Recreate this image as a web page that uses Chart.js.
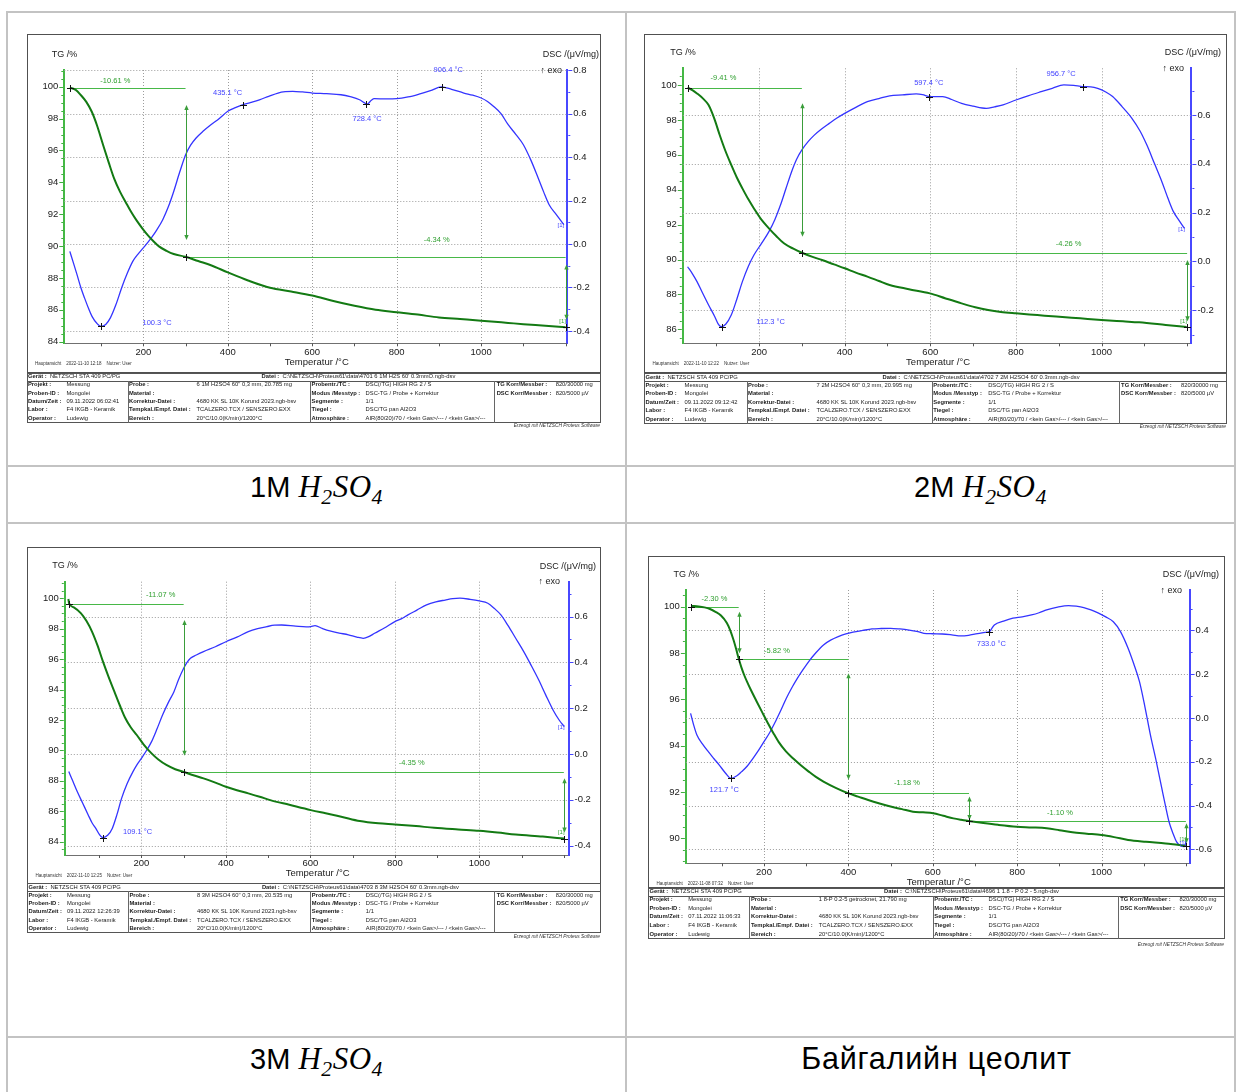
<!DOCTYPE html>
<html><head><meta charset="utf-8">
<script src="https://cdn.jsdelivr.net/npm/chart.js@4.4.0/dist/chart.umd.min.js"></script>
<style>
body{margin:0;background:#fff;font-family:"Liberation Sans",Arial,sans-serif;}
#page{position:relative;width:1237px;height:1092px;overflow:hidden;background:#fff}
canvas{position:absolute}
.cap{position:absolute;font-size:29px;line-height:29px;white-space:nowrap;color:#000;font-family:"Liberation Sans",Arial,sans-serif}
.m{font-family:"Liberation Serif","Times New Roman",serif;font-style:italic;font-size:1.07em;letter-spacing:0.5px}
.m sub{font-size:0.7em;vertical-align:-0.3em;line-height:0}
.cyr{font-size:30.5px;letter-spacing:0.8px}
</style></head><body><div id="page"></div>
<script>
// ---------- shared ticks ----------
const tempTicks = [200, 400, 600, 800, 1000];

// ---------- chart 1 : 1M H2SO4 ----------
const c1TgTemp = [26,40,52,65,78,90,105,118,131,145,158,171,184,198,211,224,237,255,272,300,330,360,400,448,500,550,600,650,700,750,800,850,900,950,1000,1064,1100,1152,1200];
const c1TgMass = [99.94,99.8,99.48,99.05,98.43,97.6,96.33,95.25,94.23,93.4,92.77,92.15,91.61,91.1,90.67,90.3,89.98,89.7,89.5,89.33,89.06,88.8,88.35,87.84,87.38,87.15,86.9,86.55,86.25,86.0,85.85,85.7,85.52,85.42,85.32,85.18,85.1,85.0,84.9];
const c1DscTemp = [26,35,43,52,61,70,78.5,90,100,111,122,135,149,162,175,188,200,219,232,246,259,272,286,300,312,325,342,360,380,400,418,435,455,475,497,519,536,554,577,600,634,668,690,712,722,730,740,747,775,800,827,853,880,906,930,959,980,1000,1015,1029,1047,1064,1082,1100,1118,1135,1148,1161,1178,1196];
const c1DscVal = [-0.034,-0.09,-0.141,-0.2,-0.249,-0.295,-0.333,-0.365,-0.379,-0.37,-0.34,-0.28,-0.2,-0.135,-0.08,-0.045,-0.018,0.028,0.065,0.112,0.17,0.242,0.33,0.41,0.455,0.488,0.52,0.549,0.578,0.611,0.628,0.641,0.652,0.664,0.68,0.695,0.701,0.703,0.7,0.695,0.692,0.687,0.678,0.664,0.652,0.644,0.662,0.669,0.668,0.669,0.677,0.69,0.706,0.723,0.712,0.695,0.685,0.672,0.656,0.634,0.6,0.549,0.505,0.457,0.385,0.304,0.24,0.181,0.135,0.089];
const c1TgTicks = [84,86,88,90,92,94,96,98,100];
const c1DscTicks = [-0.4,-0.2,0,0.2,0.4,0.6,0.8];
const c1StepFrom = [26,300], c1StepTo = [300,1200], c1StepLevel = [99.94,89.33];
const c1StepText = ['-10.61 %','-4.34 %'], c1StepLabelT = [133.7,894.6], c1StepLabelV = [100.36,90.38];
const c1ArrowT = [300,1200], c1ArrowTop = [98.85,88.84], c1ArrowBottom = [90.38,85.38];
const c1TgMarkT = [26,300,1200], c1TgMarkV = [99.94,89.33,84.9];
const c1PeakT = [100.3,435.1,728.4,906.4], c1PeakV = [-0.379,0.641,0.644,0.723];
const c1PeakText = ['100.3 °C','435.1 °C','728.4 °C','906.4 °C'], c1PeakLabelT = [232.7,399.6,730,922], c1PeakLabelV = [-0.362,0.697,0.576,0.80];

// ---------- chart 2 : 2M H2SO4 ----------
const c2TgTemp = [33,45,55,68,82,95,108,121,135,148,161,175,188,205,223,240,258,280,300,325,347,375,400,426,453,480,505,550,599,636,673,705,735,765,800,850,894,950,1000,1050,1088,1150,1199];
const c2TgMass = [99.85,99.7,99.52,99.25,98.85,98.1,97.14,96.25,95.42,94.7,94.08,93.45,92.93,92.3,91.79,91.35,90.93,90.62,90.39,90.15,89.97,89.72,89.5,89.25,89.02,88.77,88.54,88.3,88.06,87.77,87.49,87.27,87.11,87.0,86.92,86.82,86.73,86.63,86.54,86.46,86.4,86.25,86.13];
const c2DscTemp = [33,44,55,68,82,96,104,111,122,135,148,161,175,188,205,223,237,250,263,276,288,300,315,329,346,364,382,400,426,453,480,505,535,567,582,599,629,650,673,700,731,750,770,800,830,859,885,912,935,956,975,991,1010,1026,1048,1071,1090,1106,1124,1141,1155,1168,1181,1194];
const c2DscVal = [-0.022,-0.05,-0.083,-0.13,-0.179,-0.225,-0.255,-0.268,-0.258,-0.22,-0.155,-0.083,-0.02,0.026,0.072,0.122,0.172,0.231,0.3,0.368,0.42,0.457,0.492,0.518,0.543,0.566,0.588,0.607,0.632,0.655,0.668,0.679,0.683,0.687,0.684,0.676,0.676,0.664,0.648,0.637,0.628,0.634,0.642,0.662,0.68,0.696,0.71,0.724,0.722,0.717,0.716,0.71,0.695,0.676,0.635,0.587,0.535,0.477,0.4,0.327,0.26,0.204,0.168,0.135];
const c2TgTicks = [86,88,90,92,94,96,98,100];
const c2DscTicks = [-0.2,0,0.2,0.4,0.6];
const c2StepFrom = [33,300], c2StepTo = [300,1200], c2StepLevel = [99.85,90.39];
const c2StepText = ['-9.41 %','-4.26 %'], c2StepLabelT = [116.9,923], c2StepLabelV = [100.42,90.89];
const c2ArrowT = [300,1200], c2ArrowTop = [98.95,89.97], c2ArrowBottom = [91.31,86.47];
const c2TgMarkT = [33,300,1199], c2TgMarkV = [99.85,90.39,86.13];
const c2PeakT = [112.3,597.4,956.7], c2PeakV = [-0.268,0.676,0.717];
const c2PeakText = ['112.3 °C','597.4 °C','956.7 °C'], c2PeakLabelT = [227,596.5,905.6], c2PeakLabelV = [-0.25,0.734,0.768];

// ---------- chart 3 : 3M H2SO4 ----------
const c3TgTemp = [27,29,40,57,70,83,96,109,122,136,149,162,175,189,205,224,240,259,280,300,325,347,375,400,426,453,480,505,550,601,636,673,717,761,800,850,893,950,1000,1043,1086,1150,1201];
const c3TgMass = [99.95,99.65,99.4,99.01,98.5,97.81,96.9,95.83,94.85,93.86,92.95,92.11,91.5,91.01,90.4,89.8,89.4,89.04,88.76,88.58,88.35,88.16,87.88,87.61,87.38,87.17,86.95,86.73,86.42,86.07,85.86,85.64,85.35,85.2,85.13,85.02,84.91,84.8,84.71,84.6,84.47,84.33,84.2];
const c3DscTemp = [28,38,48,61,74,83,92,100,109,120,131,142,153,166,180,190,200,212,224,237,250,263,277,288,300,308,316,330,347,375,400,426,453,475,497,515,532,565,590,601,611,628,646,668,690,710,725,738,752,775,800,815,831,852,875,897,919,937,954,978,1000,1020,1035,1051,1068,1086,1104,1122,1140,1157,1175,1190,1201];
const c3DscVal = [-0.077,-0.12,-0.164,-0.215,-0.266,-0.3,-0.325,-0.35,-0.365,-0.355,-0.325,-0.265,-0.194,-0.13,-0.077,-0.045,-0.019,0.015,0.054,0.11,0.17,0.222,0.272,0.325,0.374,0.4,0.418,0.432,0.447,0.468,0.49,0.51,0.534,0.547,0.556,0.562,0.563,0.558,0.555,0.556,0.56,0.548,0.537,0.528,0.52,0.51,0.505,0.512,0.527,0.55,0.578,0.59,0.607,0.628,0.651,0.664,0.672,0.678,0.68,0.675,0.668,0.658,0.636,0.607,0.56,0.505,0.45,0.389,0.325,0.258,0.19,0.145,0.119];
const c3TgTicks = [84,86,88,90,92,94,96,98,100];
const c3DscTicks = [-0.4,-0.2,0,0.2,0.4,0.6];
const c3StepFrom = [28,300], c3StepTo = [300,1200], c3StepLevel = [99.63,88.58];
const c3StepText = ['-11.07 %','-4.35 %'], c3StepLabelT = [245.7,839.7], c3StepLabelV = [100.22,89.19];
const c3ArrowT = [300,1200], c3ArrowTop = [98.57,88.16], c3ArrowBottom = [89.65,84.6];
const c3TgMarkT = [28,300,1200], c3TgMarkV = [99.63,88.58,84.2];
const c3PeakT = [109.1], c3PeakV = [-0.365];
const c3PeakText = ['109.1 °C'], c3PeakLabelT = [191], c3PeakLabelV = [-0.342];

// ---------- chart 4 : natural zeolite ----------
const c4TgTemp = [28,45,59,72,85,98,112,120,128,134,140,146,153,160,169,182,195,209,222,235,252,270,288,306,323,341,370,399,423,447,474,500,527,553,577,601,625,649,667,685,720,755,799,835,870,900,931,965,1000,1030,1063,1105,1152,1180,1200];
const c4TgMass = [100.03,100.01,99.97,99.9,99.78,99.62,99.3,98.98,98.55,98.17,97.76,97.4,97.05,96.75,96.4,95.93,95.47,94.98,94.55,94.15,93.75,93.43,93.14,92.88,92.65,92.45,92.18,91.95,91.8,91.65,91.5,91.37,91.26,91.15,91.12,91.08,90.97,90.86,90.8,90.75,90.66,90.58,90.5,90.47,90.43,90.35,90.26,90.2,90.14,90.05,89.93,89.85,89.78,89.72,89.68];
const c4DscTemp = [26,33,41,54,68,81,94,108,122,135,147,161,174,187,200,214,227,240,253,266,279,293,306,323,341,358,376,394,411,434,456,478,500,522,544,562,579,600,623,645,667,685,702,720,736,740,746,768,790,812,834,852,870,896,922,940,958,975,993,1010,1028,1045,1063,1076,1090,1103,1116,1130,1143,1152,1160,1170,1178,1188,1196,1200];
const c4DscVal = [0.021,-0.03,-0.078,-0.118,-0.154,-0.185,-0.215,-0.25,-0.276,-0.265,-0.245,-0.218,-0.184,-0.148,-0.108,-0.065,-0.017,0.035,0.09,0.138,0.181,0.222,0.258,0.298,0.334,0.356,0.372,0.384,0.392,0.4,0.407,0.409,0.41,0.407,0.402,0.396,0.387,0.385,0.384,0.38,0.375,0.378,0.384,0.39,0.398,0.41,0.425,0.443,0.456,0.462,0.471,0.481,0.494,0.507,0.514,0.511,0.505,0.494,0.479,0.462,0.44,0.395,0.319,0.25,0.166,0.05,-0.078,-0.2,-0.322,-0.405,-0.474,-0.53,-0.566,-0.585,-0.588,-0.566];
const c4TgTicks = [90,92,94,96,98,100];
const c4DscTicks = [-0.6,-0.4,-0.2,0,0.2,0.4];
const c4StepFrom = [28,140,400,686], c4StepTo = [140,400,686,1200], c4StepLevel = [100.0,97.73,91.95,90.75];
const c4StepText = ['-2.30 %','-5.82 %','-1.18 %','-1.10 %'], c4StepLabelT = [82.7,230.8,539,901.6], c4StepLabelV = [100.33,98.1,92.4,91.08];
const c4ArrowT = [140,400,686,1200], c4ArrowTop = [99.78,97.13,91.8,90.65], c4ArrowBottom = [97.99,92.53,90.79,89.79];
const c4TgMarkT = [28,140,400,686,1200], c4TgMarkV = [100.0,97.76,91.95,90.75,89.68];
const c4PeakT = [121.7,733.0], c4PeakV = [-0.276,0.395];
const c4PeakText = ['121.7 °C','733.0 °C'], c4PeakLabelT = [105.7,739], c4PeakLabelV = [-0.329,0.338];

// ---------- metadata texts ----------
const meta1 = {haupt:'Hauptansicht    2022-11-10 12:18    Nutzer: User', datei:"C:\\NETZSCH\\Proteus61\\data\\4701  6  1M  H2S  60'  0.3mmO.ngb-dsv", probe:"6  1M H2SO4  60'' 0,3 mm, 20.785 mg", datum:'09.11.2022 06:02:41'};
const meta2 = {haupt:'Hauptansicht    2022-11-10 12:22    Nutzer: User', datei:"C:\\NETZSCH\\Proteus61\\data\\4702  7  2M  H2SO4  60'  0.3mm.ngb-dsv", probe:"7  2M H2SO4  60'' 0,3 mm, 20.995 mg", datum:'09.11.2022 09:12:42'};
const meta3 = {haupt:'Hauptansicht    2022-11-10 12:25    Nutzer: User', datei:"C:\\NETZSCH\\Proteus61\\data\\4703  8  3M  H2SO4  60'  0.3mm.ngb-dsv", probe:"8  3M H2SO4  60'' 0,3 mm, 20.535 mg", datum:'09.11.2022 12:26:39'};
const meta4 = {haupt:'Hauptansicht    2022-11-08 07:32    Nutzer: User', datei:'C:\\NETZSCH\\Proteus61\\data\\4696 1    1.8 - P  0.2 - 5.ngb-dsv', probe:'1  8-P  0.2-5  getrocknet, 21.790 mg', datum:'07.11.2022 11:06:33'};
const col1Labels = ['Projekt :','Proben-ID :','Datum/Zeit :','Labor :','Operator :'];
const col2Labels = ['Probe :','Material :','Korrektur-Datei :','Tempkal./Empf. Datei :','Bereich :'];
const col3Labels = ['Probentr./TC :','Modus /Messtyp :','Segmente :','Tiegel :','Atmosphäre :'];
const col3Values = ['DSC(/TG) HIGH RG 2 / S','DSC-TG / Probe + Korrektur','1/1','DSC/TG pan Al2O3','AIR(80/20)/70 / <kein Gas>/--- / <kein Gas>/---'];
const col4Labels = ['TG Korr/Messber :','DSC Korr/Messber :'];
const col4Values = ['820/30000 mg','820/5000 µV'];

// ---------- helpers ----------
const FONT = '"Liberation Sans", Arial, sans-serif';
const page = document.getElementById('page');
function el(tag, css){const d=document.createElement(tag);Object.assign(d.style,css);page.appendChild(d);return d;}
function rect(l,t,w,h,bg){return el('div',{position:'absolute',left:l+'px',top:t+'px',width:w+'px',height:h+'px',background:bg});}
function box(l,t,w,h,border){return el('div',{position:'absolute',left:l+'px',top:t+'px',width:w+'px',height:h+'px',border:border,boxSizing:'border-box'});}
function txt(x,y,content,o){
  o=o||{}; const fs=o.size||9;
  const d=el('div',{position:'absolute',left:x+'px',top:(y-fs*0.49)+'px',fontSize:fs+'px',lineHeight:fs+'px',whiteSpace:'nowrap',
    color:o.color||'#1a1a1a',fontWeight:o.bold?'bold':'normal',fontStyle:o.italic?'italic':'normal',fontFamily:FONT});
  if(o.html) d.innerHTML=content; else d.textContent=content;
  if(o.align==='right') d.style.transform='translateX(-100%)';
  else if(o.align==='center') d.style.transform='translateX(-50%)';
  return d;
}
function seg(ctx,x1,y1,x2,y2){ctx.beginPath();ctx.moveTo(x1,y1);ctx.lineTo(x2,y2);ctx.stroke();}
function tri(ctx,x,y,dir){ctx.beginPath();ctx.moveTo(x,y);ctx.lineTo(x-2.2,y+dir*5);ctx.lineTo(x+2.2,y+dir*5);ctx.closePath();ctx.fill();}

function decor(s){
  return {
    id:'decor',
    beforeDatasetsDraw(chart){
      const ctx=chart.ctx,a=chart.chartArea,X=chart.scales.x,YT=chart.scales.yTG,YD=chart.scales.yDSC;
      ctx.save(); ctx.lineWidth=1;
      ctx.strokeStyle='#9c9c9c'; ctx.setLineDash([1,2]);
      tempTicks.forEach(v=>{const p=Math.round(X.getPixelForValue(v))+0.5;seg(ctx,p,a.top,p,a.bottom);});
      s.dscTicks.forEach(v=>{const p=Math.round(YD.getPixelForValue(v))+0.5;seg(ctx,a.left,p,a.right,p);});
      ctx.setLineDash([]);
      ctx.strokeStyle='#555';
      for(let v=100;v<=1200;v+=100){if(v<X.min||v>X.max)continue;const p=Math.round(X.getPixelForValue(v))+0.5;seg(ctx,p,a.bottom,p,a.bottom+3);}
      ctx.strokeStyle='#3fae3f';
      for(let k=Math.ceil(YT.min*2);k<=Math.floor(YT.max*2);k++){const p=Math.round(YT.getPixelForValue(k/2))+0.5;const len=(k%4===0)?4:2;seg(ctx,a.left-len-1,p,a.left-1,p);}
      ctx.strokeStyle='#4545ff';
      for(let k=Math.ceil(YD.min*10-1e-6);k<=Math.floor(YD.max*10+1e-6);k++){const p=Math.round(YD.getPixelForValue(k/10))+0.5;const len=(k%2===0)?4:2;seg(ctx,a.right+1,p,a.right+1+len,p);}
      ctx.strokeStyle='#48b848';
      s.stepFrom.forEach((f,i)=>{const y=Math.round(YT.getPixelForValue(s.stepLevel[i]))+0.5;seg(ctx,X.getPixelForValue(f),y,X.getPixelForValue(s.stepTo[i]),y);});
      ctx.restore();
    },
    afterDatasetsDraw(chart){
      const ctx=chart.ctx,X=chart.scales.x,YT=chart.scales.yTG,YD=chart.scales.yDSC;
      ctx.save(); ctx.lineWidth=1;
      ctx.strokeStyle=ctx.fillStyle='#3a9d3a';
      s.arrowT.forEach((t,i)=>{const x=Math.round(X.getPixelForValue(t))+0.5,y1=YT.getPixelForValue(s.arrowTop[i]),y2=YT.getPixelForValue(s.arrowBottom[i]);seg(ctx,x,y1+2,x,y2-2);tri(ctx,x,y1,1);tri(ctx,x,y2,-1);});
      ctx.strokeStyle='#111';
      const cross=(x,y)=>{x=Math.round(x)+0.5;y=Math.round(y)+0.5;seg(ctx,x-3.5,y,x+3.5,y);seg(ctx,x,y-3.5,x,y+3.5);};
      s.tgMarkT.forEach((t,i)=>cross(X.getPixelForValue(t),YT.getPixelForValue(s.tgMarkV[i])));
      s.peakT.forEach((t,i)=>cross(X.getPixelForValue(t),YD.getPixelForValue(s.peakV[i])));
      ctx.textAlign='center'; ctx.textBaseline='middle';
      ctx.font='7.5px '+FONT;
      ctx.fillStyle='#2f9f2f';
      s.stepText.forEach((tx,i)=>ctx.fillText(tx,X.getPixelForValue(s.stepLabelT[i]),YT.getPixelForValue(s.stepLabelV[i])));
      ctx.fillStyle='#4343ff';
      s.peakText.forEach((tx,i)=>ctx.fillText(tx,X.getPixelForValue(s.peakLabelT[i]),YD.getPixelForValue(s.peakLabelV[i])));
      ctx.font='6px '+FONT;
      const n=s.tgT.length-1, m=s.dscT.length-1;
      ctx.fillStyle='#3aa83a'; ctx.fillText('[1]',X.getPixelForValue(s.tgT[n])-3,YT.getPixelForValue(s.tgV[n])-6);
      ctx.fillStyle='#4343ff'; ctx.fillText('[1]',X.getPixelForValue(s.dscT[m])-3,YD.getPixelForValue(s.dscV[m])+1);
      ctx.restore();
    }
  };
}

function makeChart(s){
  const cv=document.createElement('canvas');
  cv.width=s.cw; cv.height=s.ch;
  Object.assign(cv.style,{left:s.cl+'px',top:s.ct+'px',width:s.cw+'px',height:s.ch+'px'});
  page.appendChild(cv);
  const leftW=s.pl-s.cl, rightW=(s.cl+s.cw)-s.pr, botH=(s.ct+s.ch)-s.pb, topP=s.pt-s.ct;
  const tickFont={family:FONT,size:9.5};
  new Chart(cv,{
    type:'line',
    data:{datasets:[
      {label:'TG',yAxisID:'yTG',data:s.tgT.map((t,i)=>({x:t,y:s.tgV[i]})),borderColor:'#137a13',borderWidth:2,pointRadius:0,cubicInterpolationMode:'monotone',fill:false},
      {label:'DSC',yAxisID:'yDSC',data:s.dscT.map((t,i)=>({x:t,y:s.dscV[i]})),borderColor:'#3434ff',borderWidth:1.3,pointRadius:0,cubicInterpolationMode:'monotone',fill:false}
    ]},
    options:{
      responsive:false,animation:false,devicePixelRatio:1,
      layout:{padding:{top:topP,left:0,right:0,bottom:0}},
      plugins:{legend:{display:false},tooltip:{enabled:false}},
      scales:{
        x:{type:'linear',position:'bottom',min:s.xMin,max:s.xMax,
          afterBuildTicks:sc=>{sc.ticks=tempTicks.map(v=>({value:v}));},
          afterFit:sc=>{sc.height=botH;},
          grid:{display:false,drawTicks:false},border:{display:true,color:'#707070',width:1},
          ticks:{padding:3,font:tickFont,color:'#1a1a1a',maxRotation:0,autoSkip:false,callback:v=>String(v)}},
        yTG:{type:'linear',position:'left',min:s.tgMin,max:s.tgMax,
          afterBuildTicks:sc=>{sc.ticks=s.tgTicks.map(v=>({value:v}));},
          afterFit:sc=>{sc.width=leftW;},
          grid:{display:false,drawTicks:false},border:{display:true,color:'#45b845',width:2},
          ticks:{padding:6,font:tickFont,color:'#1a1a1a',autoSkip:false,callback:v=>String(v)}},
        yDSC:{type:'linear',position:'right',min:s.dscMin,max:s.dscMax,
          afterBuildTicks:sc=>{sc.ticks=s.dscTicks.map(v=>({value:v}));},
          afterFit:sc=>{sc.width=rightW;},
          grid:{display:false,drawTicks:false},border:{display:true,color:'#4848ff',width:2},
          ticks:{padding:6,font:tickFont,color:'#1a1a1a',autoSkip:false,callback:v=>Number(v).toFixed(1)}}
      }
    },
    plugins:[decor(s)]
  });
}

function metaTable(L,T,W,H,meta,erzY){
  const k=W/574.3;
  box(L,T,W,H,'1px solid #555');
  rect(L,T+8,W,1.3,'#555');
  [101,283.3,467.6].forEach(d=>rect(L+d*k,T+8,1,H-8,'#666'));
  const fs=5.8;
  txt(L+1.5,T+4.4,'<b>Gerät :</b>&nbsp; NETZSCH STA 409 PC/PG',{size:fs,html:true});
  txt(L+235*k,T+4.4,'<b>Datei :</b>&nbsp; '+meta.datei.replace(/&/g,'&amp;'),{size:fs,html:true});
  const col1Values=['Messung','Mongolei',meta.datum,'F4 IKGB - Keramik','Ludewig'];
  const col2Values=[meta.probe,'','4680 KK  SL  10K  Korund 2023.ngb-bsv','TCALZERO.TCX / SENSZERO.EXX','20°C/10.0(K/min)/1200°C'];
  const rh=(H-8)/5;
  for(let i=0;i<5;i++){
    const y=T+8+rh*(i+0.5)+0.3;
    txt(L+1.5,y,col1Labels[i],{size:fs,bold:true}); txt(L+40*k,y,col1Values[i],{size:fs});
    txt(L+102.5*k,y,col2Labels[i],{size:fs,bold:true}); txt(L+170*k,y,col2Values[i],{size:fs});
    txt(L+285*k,y,col3Labels[i],{size:fs,bold:true}); txt(L+339*k,y,col3Values[i],{size:fs});
    if(i<2){txt(L+470*k,y,col4Labels[i],{size:fs,bold:true}); txt(L+529*k,y,col4Values[i],{size:fs});}
  }
  txt(L+W-1,erzY,'Erzeugt mit NETZSCH Proteus Software',{size:4.8,italic:true,align:'right',color:'#333'});
}

function panel(s){
  box(s.frame[0],s.frame[1],s.frame[2],s.frame[3],'1px solid #505050');
  makeChart(s);
  txt(s.pl-12.5,s.pt-16,'TG /%',{size:9});
  txt(s.frame[0]+s.frame[2]-s.dscTitleGap,s.pt-15.5,'DSC /(μV/mg)',{size:9,align:'right'});
  txt(s.pr-s.exoGap,s.pt,'↑ exo',{size:9,align:'right'});
  txt((s.pl+s.pr)/2+1,s.pb+18,'Temperatur /°C',{size:9.5,align:'center'});
  txt(s.frame[0]+8.5,s.pb+21.3,s.meta.haupt.replace(/ /g,'\u00a0'),{size:4.5,color:'#333'});
  metaTable(s.table[0],s.table[1],s.table[2],s.table[3],s.meta,s.erzY);
}

// ---------- outer grid of the document table ----------
const G='#c3c3c3';
rect(6,11,1230,2,G);
rect(6,11,2,1081,G);
rect(1234,11,2,1081,G);
rect(625,11,2,1081,G);
rect(6,465,1230,2,G);
rect(6,522,1230,2,G);
rect(6,1036,1230,2,G);

panel({cl:27,ct:35,cw:574,ch:337,pl:64.3,pr:567.3,pt:70,pb:343.3,xMin:12.9,xMax:1204,tgMin:83.9,tgMax:101.05,dscMin:-0.457,dscMax:0.801,
  tgT:c1TgTemp,tgV:c1TgMass,dscT:c1DscTemp,dscV:c1DscVal,tgTicks:c1TgTicks,dscTicks:c1DscTicks,
  stepFrom:c1StepFrom,stepTo:c1StepTo,stepLevel:c1StepLevel,stepText:c1StepText,stepLabelT:c1StepLabelT,stepLabelV:c1StepLabelV,
  arrowT:c1ArrowT,arrowTop:c1ArrowTop,arrowBottom:c1ArrowBottom,tgMarkT:c1TgMarkT,tgMarkV:c1TgMarkV,
  peakT:c1PeakT,peakV:c1PeakV,peakText:c1PeakText,peakLabelT:c1PeakLabelT,peakLabelV:c1PeakLabelV,
  frame:[26.5,34,574.5,339],table:[26.5,372.5,574.5,50],erzY:426,meta:meta1,dscTitleGap:2,exoGap:5.3});

panel({cl:645,ct:35,cw:581,ch:337,pl:682.8,pr:1191.4,pt:68.3,pb:343.3,xMin:21.8,xMax:1210,tgMin:85.2,tgMax:100.96,dscMin:-0.336,dscMax:0.792,
  tgT:c2TgTemp,tgV:c2TgMass,dscT:c2DscTemp,dscV:c2DscVal,tgTicks:c2TgTicks,dscTicks:c2DscTicks,
  stepFrom:c2StepFrom,stepTo:c2StepTo,stepLevel:c2StepLevel,stepText:c2StepText,stepLabelT:c2StepLabelT,stepLabelV:c2StepLabelV,
  arrowT:c2ArrowT,arrowTop:c2ArrowTop,arrowBottom:c2ArrowBottom,tgMarkT:c2TgMarkT,tgMarkV:c2TgMarkV,
  peakT:c2PeakT,peakV:c2PeakV,peakText:c2PeakText,peakLabelT:c2PeakLabelT,peakLabelV:c2PeakLabelV,
  frame:[644,34,583,339],table:[644,373,583,50.5],erzY:427,meta:meta2,dscTitleGap:6,exoGap:7.4});

panel({cl:28,ct:548,cw:573,ch:335,pl:64.8,pr:568.5,pt:581.7,pb:855,xMin:18.6,xMax:1211,tgMin:83.12,tgMax:101.09,dscMin:-0.441,dscMax:0.752,
  tgT:c3TgTemp,tgV:c3TgMass,dscT:c3DscTemp,dscV:c3DscVal,tgTicks:c3TgTicks,dscTicks:c3DscTicks,
  stepFrom:c3StepFrom,stepTo:c3StepTo,stepLevel:c3StepLevel,stepText:c3StepText,stepLabelT:c3StepLabelT,stepLabelV:c3StepLabelV,
  arrowT:c3ArrowT,arrowTop:c3ArrowTop,arrowBottom:c3ArrowBottom,tgMarkT:c3TgMarkT,tgMarkV:c3TgMarkV,
  peakT:c3PeakT,peakV:c3PeakV,peakText:c3PeakText,peakLabelT:c3PeakLabelT,peakLabelV:c3PeakLabelV,
  frame:[27,546.5,574,337],table:[27,883,574,50],erzY:937,meta:meta3,dscTitleGap:5,exoGap:8.5});

panel({cl:649,ct:557,cw:575,ch:330,pl:685.9,pr:1189.6,pt:590,pb:863.3,xMin:14.9,xMax:1208.8,tgMin:88.92,tgMax:100.72,dscMin:-0.664,dscMax:0.585,
  tgT:c4TgTemp,tgV:c4TgMass,dscT:c4DscTemp,dscV:c4DscVal,tgTicks:c4TgTicks,dscTicks:c4DscTicks,
  stepFrom:c4StepFrom,stepTo:c4StepTo,stepLevel:c4StepLevel,stepText:c4StepText,stepLabelT:c4StepLabelT,stepLabelV:c4StepLabelV,
  arrowT:c4ArrowT,arrowTop:c4ArrowTop,arrowBottom:c4ArrowBottom,tgMarkT:c4TgMarkT,tgMarkV:c4TgMarkV,
  peakT:c4PeakT,peakV:c4PeakV,peakText:c4PeakText,peakLabelT:c4PeakLabelT,peakLabelV:c4PeakLabelV,
  frame:[648,555.5,577,332.5],table:[648,887.5,577,51],erzY:945,meta:meta4,dscTitleGap:6,exoGap:7.6});

// ---------- captions ----------
function caption(left,width,baseline,html,align){
  const d=el('div',{left:left+'px',top:(baseline-24.55)+'px'});
  d.className='cap';
  if(width){d.style.width=width+'px';d.style.textAlign=align||'center';}
  d.innerHTML=html;
}
const acid='<span class="m">H<sub>2</sub>SO<sub>4</sub></span>';
caption(8,617,496.7,'1M '+acid);
caption(914,0,496.7,'2M '+acid);
caption(8,617,1068.5,'3M '+acid);
caption(633,607,1068.5,'<span class="cyr">Байгалийн цеолит</span>');
</script></body></html>
